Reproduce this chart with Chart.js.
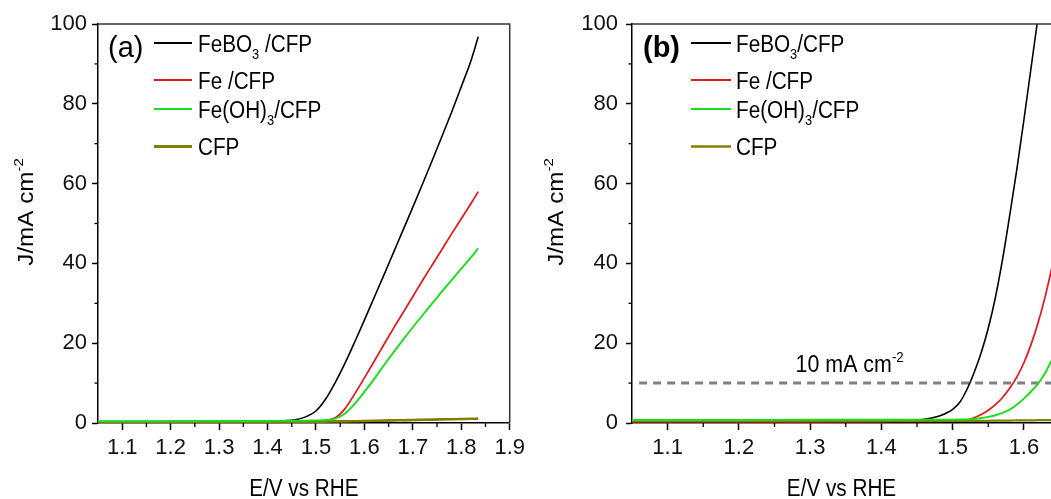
<!DOCTYPE html>
<html>
<head>
<meta charset="utf-8">
<title>LSV polarization curves</title>
<script src="https://cdn.jsdelivr.net/npm/chart.js@4.4.1/dist/chart.umd.min.js"></script>
<style>
  html, body { margin: 0; padding: 0; background: #fff; overflow: hidden; }
  #figure { position: relative; width: 1051px; height: 499px; }
  #figure canvas { position: absolute; top: 0; }
</style>
</head>
<body>
<div id="figure">
  <canvas id="panelA" width="530" height="499" style="left:0"></canvas>
  <canvas id="panelB" width="521" height="499" style="left:530px"></canvas>
</div>
<script>
// ---- Panel (a): sweep potentials (V vs RHE) and current densities (mA cm-2)
const potentialA = [1.05, 1.10, 1.20, 1.30, 1.40, 1.44, 1.46, 1.48, 1.50, 1.52, 1.54, 1.56, 1.58,
                    1.60, 1.62, 1.64, 1.66, 1.68, 1.70, 1.72, 1.74, 1.76, 1.78, 1.80, 1.82, 1.835];
const feBO3A  = [0.3, 0.3, 0.35, 0.4, 0.5, 0.6, 0.9, 1.6, 3.0, 6.0, 10.2, 15.0, 20.3,
                 25.8, 31.4, 37.0, 42.7, 48.4, 54.1, 59.9, 65.8, 71.8, 77.9, 84.3, 90.8, 96.8];
const feA     = [0.2, 0.2, 0.25, 0.3, 0.35, 0.4, 0.4, 0.45, 0.5, 0.6, 1.3, 3.6, 7.3,
                 11.3, 15.4, 19.6, 23.7, 27.7, 31.7, 35.7, 39.6, 43.5, 47.4, 51.2, 55.0, 58.0];
const feOH3A  = [0.45, 0.45, 0.45, 0.5, 0.5, 0.55, 0.55, 0.6, 0.65, 0.75, 1.1, 2.4, 4.8,
                 7.8, 11.0, 14.4, 17.7, 20.9, 24.0, 27.0, 30.0, 32.9, 35.8, 38.7, 41.5, 43.8];
const cfpA    = [0.25, 0.25, 0.25, 0.3, 0.3, 0.3, 0.3, 0.3, 0.35, 0.35, 0.4, 0.4, 0.45,
                 0.5, 0.55, 0.6, 0.65, 0.7, 0.75, 0.8, 0.85, 0.9, 0.95, 1.0, 1.05, 1.1];

// ---- Panel (b)
const potentialB = [1.05, 1.10, 1.20, 1.30, 1.40, 1.44, 1.46, 1.48, 1.49, 1.50, 1.51, 1.52,
                    1.53, 1.54, 1.55, 1.56, 1.57, 1.58, 1.59, 1.60, 1.61, 1.62, 1.63, 1.64];
const feBO3B  = [0.3, 0.3, 0.3, 0.35, 0.45, 0.6, 0.9, 1.7, 2.4, 3.4, 5.2, 8.4,
                 12.6, 17.6, 23.8, 31.5, 41.0, 52.0, 63.5, 76.0, 89.0, 102, 115, 128];
const feB     = [0.3, 0.3, 0.3, 0.3, 0.35, 0.4, 0.4, 0.45, 0.5, 0.5, 0.6, 0.8,
                 1.3, 2.1, 3.2, 4.6, 6.4, 8.7, 11.5, 15.1, 19.7, 25.2, 31.8, 39.5];
const feOH3B  = [0.75, 0.75, 0.75, 0.8, 0.8, 0.85, 0.85, 0.85, 0.85, 0.85, 0.9, 0.9,
                 1.0, 1.25, 1.55, 1.95, 2.55, 3.35, 4.55, 6.1, 7.9, 9.9, 12.6, 16.1];
const cfpB    = [0.5, 0.5, 0.5, 0.5, 0.5, 0.5, 0.5, 0.5, 0.5, 0.5, 0.5, 0.5,
                 0.55, 0.55, 0.55, 0.6, 0.6, 0.6, 0.65, 0.65, 0.65, 0.7, 0.7, 0.7];

// 10 mA cm-2 benchmark line
const referenceX = [1.06, 1.64];
const referenceJ = [10, 10];
const referenceLabel = '10 mA cm⁻²';

// Axes
const xTicksA = [1.1, 1.2, 1.3, 1.4, 1.5, 1.6, 1.7, 1.8, 1.9];
const xMinorA = [1.15, 1.25, 1.35, 1.45, 1.55, 1.65, 1.75, 1.85];
const xTicksB = [1.1, 1.2, 1.3, 1.4, 1.5, 1.6];
const xMinorB = [1.15, 1.25, 1.35, 1.45, 1.55];
const yTicks  = [0, 20, 40, 60, 80, 100];
const yMinor  = [10, 30, 50, 70, 90];
const xTitle = 'E/V vs RHE';
const yTitle = 'J/mA cm⁻²';

const namesA = ['FeBO₃ /CFP', 'Fe /CFP', 'Fe(OH)₃/CFP', 'CFP'];
const namesB = ['FeBO₃/CFP', 'Fe /CFP', 'Fe(OH)₃/CFP', 'CFP'];

// ---- drawing helpers
const FAMILY = '"Liberation Sans", Arial, Helvetica, sans-serif';
const SUBS = { '₀': '0', '₁': '1', '₂': '2', '₃': '3', '₄': '4' };
const SUPS = { '⁻': '-', '²': '2', '³': '3', '¹': '1' };

function splitRich(str) {
  const out = [];
  for (const ch of str) {
    let kind = 'n', c = ch;
    if (SUBS[ch]) { kind = 'sub'; c = SUBS[ch]; }
    else if (SUPS[ch]) { kind = 'sup'; c = SUPS[ch]; }
    const last = out[out.length - 1];
    if (last && last.kind === kind) last.text += c; else out.push({ kind, text: c });
  }
  return out;
}

// Draws text with sub/superscripts at a baseline point
function richText(ctx, str, o) {
  const segs = splitRich(str);
  const small = o.size * 0.62;
  ctx.save();
  ctx.translate(o.x, o.y);
  if (o.rotate) ctx.rotate(o.rotate);
  ctx.scale(o.stretch || 1, 1);
  ctx.fillStyle = o.color || '#000';
  ctx.textBaseline = 'alphabetic';
  ctx.textAlign = 'left';
  const fontFor = s => `${o.weight || 'normal'} ${s.kind === 'n' ? o.size : small}px ${FAMILY}`;
  let total = 0;
  segs.forEach(s => { ctx.font = fontFor(s); s.w = ctx.measureText(s.text).width; total += s.w; });
  let x = o.align === 'center' ? -total / 2 : 0;
  segs.forEach(s => {
    ctx.font = fontFor(s);
    const dy = s.kind === 'sub' ? o.size * 0.33 : s.kind === 'sup' ? -o.size * 0.45 : 0;
    ctx.fillText(s.text, x, dy);
    x += s.w;
  });
  ctx.restore();
}

// Frame, minor ticks, axis titles, panel letter, legend and benchmark label
const decorations = {
  id: 'decorations',
  afterDraw(chart, args, o) {
    const { ctx, chartArea: a, scales: { x, y } } = chart;
    ctx.save();
    ctx.strokeStyle = '#333';
    ctx.lineWidth = 1.5;
    ctx.beginPath();
    ctx.moveTo(a.left, a.top);
    ctx.lineTo(a.right, a.top);
    if (o.rightFrame) ctx.lineTo(a.right, a.bottom);
    ctx.stroke();

    ctx.strokeStyle = '#000';
    ctx.lineWidth = 1.3;
    o.xMinor.forEach(v => {
      const px = x.getPixelForValue(v);
      ctx.beginPath(); ctx.moveTo(px, a.bottom); ctx.lineTo(px, a.bottom + 4); ctx.stroke();
    });
    o.yMinor.forEach(v => {
      const py = y.getPixelForValue(v);
      ctx.beginPath(); ctx.moveTo(a.left, py); ctx.lineTo(a.left - 3.5, py); ctx.stroke();
    });

    o.legend.forEach((item, i) => {
      const ly = a.top + o.rowY[i];
      ctx.strokeStyle = item.color;
      ctx.lineWidth = item.legendWidth;
      ctx.beginPath();
      ctx.moveTo(a.left + o.lineX0, ly);
      ctx.lineTo(a.left + o.lineX1, ly);
      ctx.stroke();
      richText(ctx, item.label, { x: a.left + o.textX, y: ly + 8.5, size: 23, stretch: 0.9 });
    });
    ctx.restore();

    richText(ctx, o.letter, { x: a.left + o.letterX, y: a.top + 33, size: 29, weight: o.letterWeight });
    richText(ctx, xTitle, { x: (a.left + a.right) / 2, y: 496, size: 23, stretch: 0.9, align: 'center' });
    richText(ctx, yTitle, { x: 33, y: 212, rotate: -Math.PI / 2, size: 22, stretch: 1.1, align: 'center' });

    if (o.refLabel) {
      richText(ctx, o.refLabel.text, {
        x: x.getPixelForValue(o.refLabel.x), y: y.getPixelForValue(o.refLabel.y),
        size: 23, stretch: 0.93
      });
    }
  }
};

const COLORS = { black: '#000000', red: '#e8141a', green: '#18e018', olive: '#808000' };

function buildChart(canvasId, p) {
  const series = [
    { label: p.names[0], values: p.j[0], color: COLORS.black, width: 1.6, legendWidth: 2, order: 3 },
    { label: p.names[1], values: p.j[1], color: COLORS.red, width: 1.7, legendWidth: 2, order: 2 },
    { label: p.names[2], values: p.j[2], color: COLORS.green, width: 1.9, legendWidth: 2, order: 0 },
    { label: p.names[3], values: p.j[3], color: COLORS.olive, width: p.cfpWidth, legendWidth: p.cfpLegendWidth, order: 1 }
  ];
  const datasets = series.map(s => ({
    label: s.label,
    data: p.potential.map((v, k) => ({ x: v, y: s.values[k] })),
    borderColor: s.color,
    borderWidth: s.width,
    pointRadius: 0,
    fill: false,
    cubicInterpolationMode: 'monotone',
    order: s.order
  }));
  if (p.reference) {
    datasets.push({
      label: p.reference.label,
      data: p.reference.x.map((v, k) => ({ x: v, y: p.reference.y[k] })),
      borderColor: '#808080',
      borderWidth: 3,
      borderDash: [8, 6],
      pointRadius: 0,
      fill: false,
      order: 5
    });
  }
  const tickFont = { family: FAMILY, size: 22 };
  return new Chart(document.getElementById(canvasId), {
    type: 'line',
    data: { datasets },
    options: {
      responsive: false,
      animation: false,
      events: [],
      layout: { padding: { top: 24, right: p.padRight, left: 0, bottom: 0 } },
      scales: {
        x: {
          type: 'linear',
          min: 1.05,
          max: p.xMax,
          afterBuildTicks: s => { s.ticks = p.xTicks.map(v => ({ value: v })); },
          afterFit: s => { s.height = 76; },
          grid: { drawOnChartArea: false, drawTicks: true, tickLength: 7, tickColor: '#000', tickWidth: 1.5 },
          border: { color: '#000', width: 1.5 },
          ticks: { font: tickFont, color: '#111', padding: 5, maxRotation: 0, autoSkip: false,
                   callback: v => Number(v).toFixed(1) }
        },
        y: {
          type: 'linear',
          min: 0,
          max: 100,
          afterBuildTicks: s => { s.ticks = yTicks.map(v => ({ value: v })); },
          afterFit: s => { s.width = p.yAxisWidth; },
          grid: { drawOnChartArea: false, drawTicks: true, tickLength: 6, tickColor: '#000', tickWidth: 1.5 },
          border: { color: '#000', width: 1.5 },
          ticks: { font: tickFont, color: '#111', padding: p.yPad, callback: v => String(v) }
        }
      },
      plugins: {
        legend: { display: false },
        tooltip: { enabled: false },
        decorations: {
          rightFrame: p.rightFrame,
          xMinor: p.xMinor,
          yMinor: yMinor,
          letter: p.letter,
          letterWeight: p.letterWeight,
          letterX: p.letterX,
          lineX0: p.lineX0,
          lineX1: p.lineX1,
          textX: p.textX,
          rowY: [19, 56, 85, 122.5],
          legend: series,
          refLabel: p.refLabel
        }
      }
    },
    plugins: [decorations]
  });
}

buildChart('panelA', {
  potential: potentialA,
  j: [feBO3A, feA, feOH3A, cfpA],
  names: namesA,
  xMax: 1.9, xTicks: xTicksA, xMinor: xMinorA,
  padRight: 19, yAxisWidth: 98, yPad: 5,
  rightFrame: true,
  cfpWidth: 2.6, cfpLegendWidth: 3,
  letter: '(a)', letterWeight: 'normal', letterX: 10,
  lineX0: 56, lineX1: 94, textX: 100
});

buildChart('panelB', {
  potential: potentialB,
  j: [feBO3B, feB, feOH3B, cfpB],
  names: namesB,
  xMax: 1.638, xTicks: xTicksB, xMinor: xMinorB,
  padRight: 0, yAxisWidth: 102, yPad: 8,
  rightFrame: false,
  cfpWidth: 2.2, cfpLegendWidth: 2.5,
  letter: '(b)', letterWeight: 'bold', letterX: 11,
  lineX0: 59, lineX1: 99, textX: 104,
  reference: { label: referenceLabel, x: referenceX, y: referenceJ },
  refLabel: { text: referenceLabel, x: 1.2796, y: 12.8 }
});
</script>
</body>
</html>
